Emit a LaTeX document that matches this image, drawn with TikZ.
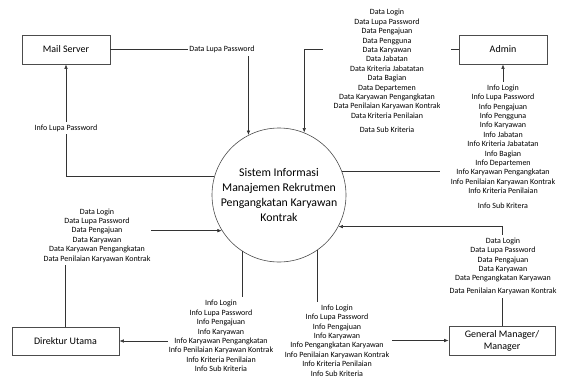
\documentclass[tikz,border=0pt]{standalone}
\usepackage{fontspec}
\setmainfont{Carlito}
\usetikzlibrary{arrows.meta}
\begin{document}
\begin{tikzpicture}[x=1pt,y=-1pt,
  ent/.style={draw=black!70,line width=0.7pt,rectangle,minimum width=88pt,minimum height=29pt,inner sep=0pt,font=\fontsize{10}{12}\selectfont,align=center},
  proc/.style={draw=black!70,line width=0.6pt,circle,minimum size=134pt,inner sep=0pt,font=\fontsize{11.8}{14.7}\selectfont,align=center},
  flow/.style={draw=black!80,line width=0.6pt,-{Latex[length=4.5pt,width=3.5pt]}},
  lbl/.style={fill=white,font=\fontsize{8}{9.4}\selectfont,align=center,inner xsep=2pt,inner ysep=3pt}]
\useasboundingbox (0,0) rectangle (564,383);

\node[ent] (mail) at (66,49.5) {Mail Server};
\node[ent] (admin) at (503,49.5) {Admin};
\node[ent,minimum width=107pt,minimum height=28pt] (dir) at (65.5,341) {Direktur Utama};
\node[ent,minimum width=106pt] (gm) at (502,340.5) {General Manager/\\Manager};
\node[proc] (c) at (279,195) {Sistem Informasi\\Manajemen Rekrutmen\\Pengangkatan Karyawan\\Kontrak};

% Mail server data
\draw[flow] (mail.east) -| (c.117.6);
\node[lbl,inner xsep=1pt] (l1) at (222,49.5) {Data Lupa Password};
% Info lupa password
\draw[flow] (c.164.4) -| (mail.south);
\node[lbl,inner xsep=1pt] (l2) at (66,128) {Info Lupa Password};

% Admin data
\draw[flow] (admin.west) -| (c.68.1);
\node[lbl,inner xsep=11pt] (l3) at (387,71) {Data Login\\Data Lupa Password\\Data Pengajuan\\Data Pengguna\\Data Karyawan\\Data Jabatan\\Data Kriteria Jabatatan\\Data Bagian\\Data Departemen\\Data Karyawan Pengangkatan\\Data Penilaian Karyawan Kontrak\\Data Kriteria Penilaian\\[5pt]Data Sub Kriteria};
% Info admin
\draw[flow] (c.21.9) -| (admin.south);
\node[lbl,inner xsep=11pt] (l4) at (503,146.5) {Info Login\\Info Lupa Password\\Info Pengajuan\\Info Pengguna\\Info Karyawan\\Info Jabatan\\Info Kriteria Jabatatan\\Info Bagian\\Info Departemen\\Info Karyawan Pengangkatan\\Info Penilaian Karyawan Kontrak\\Info Kriteria Penilaian\\[5pt]Info Sub Kritera};

% GM data
\draw[flow] (gm.north) |- (c.-28.5);
\node[lbl] (l5) at (503,266.5) {Data Login\\Data Lupa Password\\Data Pengajuan\\Data Karyawan\\Data Pengangkatan Karyawan\\[3.5pt]Data Penilaian Karyawan Kontrak};

% Direktur data
\draw[flow] (dir.north) |- (c.212.5);
\node[lbl,inner xsep=1pt] (l6) at (97,235.5) {Data Login\\Data Lupa Password\\Data Pengajuan\\Data Karyawan\\Data Karyawan Pengangkatan\\Data Penilaian Karyawan Kontrak};

% Info to Direktur
\draw[flow] (c.237.5) |- (dir.east);
\node[lbl,inner xsep=1pt] (l7) at (221,336) {Info Login\\Info Lupa Password\\Info Pengajuan\\Info Karyawan\\Info Karyawan Pengangkatan\\Info Penilaian Karyawan Kontrak\\Info Kriteria Penilaian\\Info Sub Kriteria};

% Info to GM
\draw[flow] (c.-55.5) |- (gm.west);
\node[lbl,inner xsep=3pt] (l8) at (337,340.5) {Info Login\\Info Lupa Password\\Info Pengajuan\\Info Karyawan\\Info Pengangkatan Karyawan\\Info Penilaian Karyawan Kontrak\\Info Kriteria Penilaian\\Info Sub Kriteria};
\end{tikzpicture}
\end{document}
